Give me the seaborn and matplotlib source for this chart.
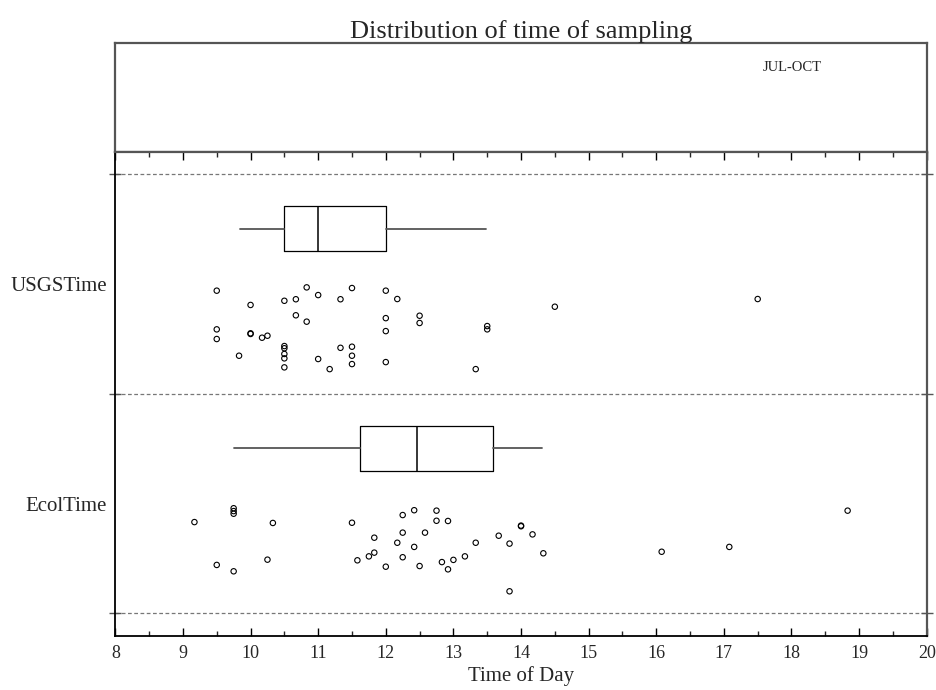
import numpy as np
import pandas as pd
import matplotlib
matplotlib.use("Agg")
import matplotlib.pyplot as plt
from matplotlib import ticker, transforms
import seaborn as sns

# sampling times (decimal hours) and the vertical scatter offset of each point
usgs_time = [9.5, 10.83, 11.5, 12.0, 11.0, 10.5, 10.67, 11.33, 12.17, 10.0,
             10.67, 10.83, 12.0, 12.5, 12.5, 9.5, 9.5, 10.0, 10.0, 10.17,
             10.25, 12.0, 13.5, 13.5, 10.5, 10.5, 10.5, 10.5, 10.5, 9.83,
             11.0, 11.17, 11.33, 11.5, 11.5, 11.5, 12.0, 13.33, 14.5, 17.5]
usgs_jitter = [0.468, 0.483, 0.480, 0.468, 0.448, 0.422, 0.429, 0.429, 0.430, 0.403,
               0.356, 0.327, 0.343, 0.354, 0.321, 0.292, 0.248, 0.274, 0.271, 0.254,
               0.263, 0.284, 0.307, 0.292, 0.216, 0.206, 0.180, 0.160, 0.119, 0.172,
               0.157, 0.111, 0.208, 0.213, 0.172, 0.134, 0.143, 0.111, 0.395, 0.430]

ecol_time = [9.17, 9.75, 9.75, 9.75, 10.33, 9.5, 9.75, 10.25, 11.5, 11.58,
             11.75, 11.83, 11.83, 12.0, 12.17, 12.25, 12.25, 12.25, 12.42, 12.42,
             12.5, 12.58, 12.75, 12.75, 12.92, 12.83, 12.92, 13.0, 13.17, 13.33,
             13.67, 13.83, 14.0, 14.0, 14.17, 14.33, 13.83, 16.08, 17.08, 18.83]
ecol_jitter = [0.415, 0.478, 0.465, 0.453, 0.411, 0.220, 0.191, 0.244, 0.412, 0.241,
               0.259, 0.276, 0.344, 0.212, 0.321, 0.447, 0.367, 0.255, 0.469, 0.302,
               0.215, 0.367, 0.467, 0.421, 0.420, 0.233, 0.200, 0.243, 0.259, 0.321,
               0.353, 0.317, 0.399, 0.396, 0.359, 0.273, 0.100, 0.280, 0.302, 0.467]

groups = ["EcolTime", "USGSTime"]
period = "JUL-OCT"

sns.set_style("white")
plt.rcParams['font.family'] = ['Liberation Serif', 'DejaVu Serif']

fig = plt.figure(figsize=(9.36, 6.9), dpi=100)
ax_top = fig.add_axes([0.1232, 0.7797, 0.8669, 0.1584])
ax = fig.add_axes([0.1232, 0.0787, 0.8669, 0.7010])

# header panel
ax_top.set_xticks([])
ax_top.set_yticks([])
for s in ax_top.spines.values():
    s.set_color("#555555")
    s.set_linewidth(1.6)
ax_top.text(0.834, 0.77, period, transform=ax_top.transAxes, ha="center", va="center", fontsize=10.5)
ax_top.set_title("Distribution of time of sampling", fontsize=19, pad=3)

df = pd.concat([
    pd.DataFrame({"time": ecol_time, "y": np.array(ecol_jitter) + 0, "group": groups[0]}),
    pd.DataFrame({"time": usgs_time, "y": np.array(usgs_jitter) + 1, "group": groups[1]}),
])

sns.scatterplot(data=df, x="time", y="y", ax=ax, marker="o", s=15,
                facecolor="none", edgecolor="black", linewidth=0.8, legend=False)

# 10-25-50-75-90 boxes (Weibull percentiles)
stats = []
for i, g in enumerate(groups):
    vals = df[df.group == g].time.values
    p10, p25, p50, p75, p90 = np.percentile(vals, [10, 25, 50, 75, 90], method="weibull")
    stats.append(dict(med=p50, q1=p25, q3=p75, whislo=p10, whishi=p90, fliers=[], label=g))
ax.bxp(stats, positions=[0.75, 1.75], widths=0.205, orientation="horizontal",
       showcaps=False, showfliers=False, manage_ticks=False,
       boxprops=dict(color="black", linewidth=0.9),
       whiskerprops=dict(color="#555555", linewidth=1.3),
       medianprops=dict(color="black", linewidth=1.1))

for yv in [0, 1, 2]:
    ax.axhline(yv, color="#777777", linewidth=0.9, linestyle=(0, (3, 2)), zorder=0)

ax.set_xlim(8, 20)
ax.set_ylim(-0.102, 2.099)
ax.xaxis.set_major_locator(ticker.MultipleLocator(1))
ax.xaxis.set_minor_locator(ticker.MultipleLocator(0.5))
ax.tick_params(axis="x", which="major", direction="in", length=6, width=1, top=True, bottom=True,
               labelsize=13, pad=7, color="black")
ax.tick_params(axis="x", which="minor", direction="in", length=3.5, width=1, top=True, bottom=True)
ax.set_yticks([0, 1, 2])
ax.set_yticklabels([])
ax.tick_params(axis="y", which="major", direction="inout", length=8, width=1, left=True, right=True, color="#555555")
ax.set_xlabel("Time of Day", fontsize=15, labelpad=3)
ax.set_ylabel("")

trans = transforms.blended_transform_factory(ax.transAxes, ax.transData)
for i, g in enumerate(groups):
    ax.text(-0.01, i + 0.485, g, transform=trans, ha="right", va="center", fontsize=15)

for side in ["left", "bottom"]:
    ax.spines[side].set_color("black")
    ax.spines[side].set_linewidth(1.3)
for side in ["right", "top"]:
    ax.spines[side].set_color("#555555")
    ax.spines[side].set_linewidth(1.6)

fig.savefig("out.png", dpi=100)
